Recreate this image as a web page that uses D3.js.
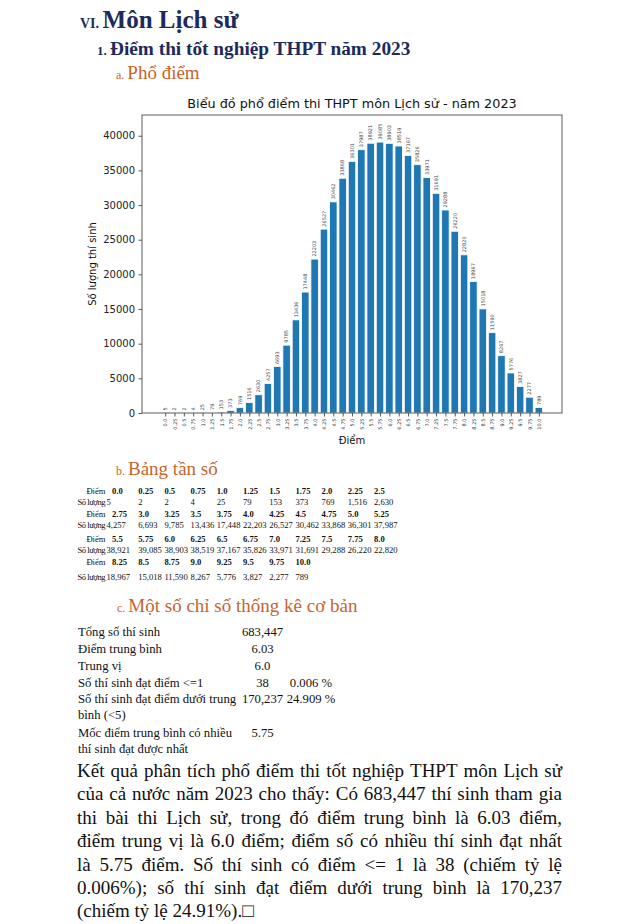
<!DOCTYPE html>
<html><head><meta charset="utf-8">
<script src="https://cdn.jsdelivr.net/npm/d3@7"></script>
<style>
html,body{margin:0;padding:0;background:#fff;}
svg{display:block;}
</style></head>
<body>
<svg id="page" width="640" height="924"></svg>
<script>
// ---------- DATA ----------
const points = ["0.0","0.25","0.5","0.75","1.0","1.25","1.5","1.75","2.0","2.25","2.5",
  "2.75","3.0","3.25","3.5","3.75","4.0","4.25","4.5","4.75","5.0","5.25",
  "5.5","5.75","6.0","6.25","6.5","6.75","7.0","7.25","7.5","7.75","8.0",
  "8.25","8.5","8.75","9.0","9.25","9.5","9.75","10.0"];
const counts = [5,2,2,4,25,79,153,373,769,1516,2630,
  4257,6693,9785,13436,17448,22203,26527,30462,33868,36301,37987,
  38921,39085,38903,38519,37167,35826,33971,31691,29288,26220,22820,
  18967,15018,11590,8267,5776,3827,2277,789];
const yTicks = [0,5000,10000,15000,20000,25000,30000,35000,40000];
const statLabels = [["Tổng số thí sinh"],["Điểm trung bình"],["Trung vị"],["Số thí sinh đạt điểm <=1"],
  ["Số thí sinh đạt điểm dưới trung","bình (<5)"],["Mốc điểm trung bình có nhiều","thí sinh đạt được nhất"]];
const statValues = ["683,447","6.03","6.0","38","170,237","5.75"];
const statPercents = ["","","","0.006 %","24.909 %",""];
const paragraphLines = [
  "Kết quả phân tích phổ điểm thi tốt nghiệp THPT môn Lịch sử",
  "của cả nước năm 2023 cho thấy: Có 683,447 thí sinh tham gia",
  "thi bài thi Lịch sử, trong đó điểm trung bình là 6.03 điểm,",
  "điểm trung vị là 6.0 điểm; điểm số có nhiều thí sinh đạt nhất",
  "là 5.75 điểm. Số thí sinh có điểm <= 1 là 38 (chiếm tỷ lệ",
  "0.006%); số thí sinh đạt điểm dưới trung bình là 170,237",
  "(chiếm tỷ lệ 24.91%).□"
];

// ---------- PAGE ----------
const svg = d3.select("#page");
const SERIF = "'Liberation Serif','Times New Roman',serif";
const SANS = "'DejaVu Sans',sans-serif";
const NAVY = "#1d2a5b";
const ORANGE = "#c5652c";

function heading(x, y, num, numSize, text, size, color, bold){
  const t = svg.append("text").attr("x", x).attr("y", y)
    .attr("font-family", SERIF).attr("fill", color)
    .attr("font-weight", bold ? "bold" : "normal");
  t.append("tspan").attr("font-size", numSize).text(num + " ");
  t.append("tspan").attr("font-size", size).text(text);
}
heading(80, 28, "VI.", 14, "Môn Lịch sử", 25, NAVY, true);
heading(97, 55, "1.", 13, "Điểm thi tốt nghiệp THPT năm 2023", 19.3, NAVY, true);
heading(116, 79, "a.", 12, "Phổ điểm", 19, ORANGE, false);

// ---------- CHART ----------
const L = 142, R = 562, T = 115, B = 413;
const n = counts.length;
const x = d3.scaleLinear().domain([-0.4 - 0.051*(n-0.2), n - 1 + 0.4 + 0.051*(n-0.2)]).range([L, R]);
const step = x(1) - x(0);
const y = d3.scaleLinear().domain([0, d3.max(counts) * 1.1]).range([B, T]);

const chart = svg.append("g");
chart.selectAll("rect.bar").data(counts).join("rect")
  .attr("class","bar")
  .attr("x", (d,i) => x(i) - step*0.4)
  .attr("width", step*0.8)
  .attr("y", d => y(d))
  .attr("height", d => B - y(d))
  .attr("fill", "#1f77b4")
  .attr("stroke", "#ffffff").attr("stroke-width", 0.8);

chart.selectAll("text.blabel").data(counts).join("text")
  .attr("class","blabel")
  .attr("transform", (d,i) => `translate(${x(i)+1.8},${y(d)-2.5}) rotate(-90)`)
  .attr("font-family", SANS).attr("font-size", 5).attr("fill", "#444")
  .text(d => d);

// axes
const yAxis = d3.axisLeft(y).tickValues(yTicks).tickFormat(d3.format("d")).tickSize(3.5).tickPadding(3.5);
const gy = chart.append("g").attr("transform", `translate(${L},0)`).call(yAxis);
gy.select(".domain").remove();
gy.selectAll("text").attr("font-family", SANS).attr("font-size", 10).attr("fill", "#222");
gy.selectAll("line").attr("stroke", "#333").attr("stroke-width", 0.8);

const xBand = d3.scalePoint().domain(points).range([x(0), x(n-1)]);
const xAxis = d3.axisBottom(xBand).tickSize(3.5).tickPadding(2);
const gx = chart.append("g").attr("transform", `translate(0,${B})`).call(xAxis);
gx.select(".domain").remove();
gx.selectAll("line").attr("stroke", "#333").attr("stroke-width", 0.8);
gx.selectAll("text")
  .attr("font-family", SANS).attr("font-size", 5).attr("fill", "#333")
  .attr("text-anchor", "end").attr("dy", null).attr("y", 0)
  .attr("transform", "translate(1.8,5.5) rotate(-90)");

chart.append("rect").attr("x", L).attr("y", T).attr("width", R-L).attr("height", B-T)
  .attr("fill", "none").attr("stroke", "#333").attr("stroke-width", 0.8);

chart.append("text").attr("x", (L+R)/2).attr("y", 108).attr("text-anchor","middle")
  .attr("font-family", SANS).attr("font-size", 12.8).attr("fill", "#111")
  .text("Biểu đồ phổ điểm thi THPT môn Lịch sử - năm 2023");
chart.append("text").attr("transform", `translate(96,${(T+B)/2}) rotate(-90)`).attr("text-anchor","middle")
  .attr("font-family", SANS).attr("font-size", 10).attr("fill", "#111")
  .text("Số lượng thí sinh");
chart.append("text").attr("x", (L+R)/2).attr("y", 444).attr("text-anchor","middle")
  .attr("font-family", SANS).attr("font-size", 10).attr("fill", "#111")
  .text("Điểm");

// ---------- TABLE ----------
heading(116, 475, "b.", 12, "Bảng tần số", 19, ORANGE, false);
const rowYs = [[494,505],[517,528],[542,553],[565,580]];
const colStep = 26.2;
const fmt = d3.format(",");
for (let r = 0; r < 4; r++){
  const pts = points.slice(r*11, r*11+11);
  const cts = counts.slice(r*11, r*11+11);
  const g = svg.append("g").attr("font-family", SERIF).attr("font-size", 8.6).attr("fill", "#111");
  g.append("text").attr("x", 105.5).attr("y", rowYs[r][0]).attr("text-anchor","end").text("Điểm");
  g.append("text").attr("x", 105.5).attr("y", rowYs[r][1]).attr("text-anchor","end").attr("textLength", 28).text("Số lượng");
  g.selectAll("text.p").data(pts).join("text").attr("class","p")
    .attr("x", (d,i) => 112 + i*colStep).attr("y", rowYs[r][0]).attr("font-weight","bold").text(d => d);
  g.selectAll("text.c").data(cts).join("text").attr("class","c")
    .attr("x", (d,i) => i === 0 ? 106.5 : 112 + i*colStep).attr("y", rowYs[r][1]).text(d => fmt(d));
}

// ---------- STATS ----------
heading(117, 612, "c.", 12, "Một số chỉ số thống kê cơ bản", 19, ORANGE, false);
const statY = [636, 653, 670, 687, 703, 737];
const sg = svg.append("g").attr("font-family", SERIF).attr("font-size", 12.7).attr("fill", "#111");
statLabels.forEach((lines, i) => {
  lines.forEach((ln, j) => {
    sg.append("text").attr("x", 78).attr("y", statY[i] + j*16).text(ln);
  });
  sg.append("text").attr("x", 262.5).attr("y", statY[i]).attr("text-anchor","middle").text(statValues[i]);
  if (statPercents[i]) sg.append("text").attr("x", 311).attr("y", statY[i]).attr("text-anchor","middle").text(statPercents[i]);
});

// ---------- PARAGRAPH ----------
const PL = 77, PR = 562, P0 = 777, PLH = 23.4;
const pg = svg.append("g").attr("font-family", SERIF).attr("font-size", 19).attr("fill", "#111");
paragraphLines.forEach((line, li) => {
  const words = line.split(" ");
  const yy = P0 + li*PLH;
  const nodes = words.map(w => pg.append("text").attr("y", yy).text(w));
  const widths = nodes.map(nd => nd.node().getComputedTextLength());
  const last = li === paragraphLines.length - 1;
  const total = d3.sum(widths);
  const gap = last ? 4.75 : (PR - PL - total) / (words.length - 1);
  let cx = PL;
  nodes.forEach((nd, k) => { nd.attr("x", cx); cx += widths[k] + gap; });
});
</script>
</body></html>
